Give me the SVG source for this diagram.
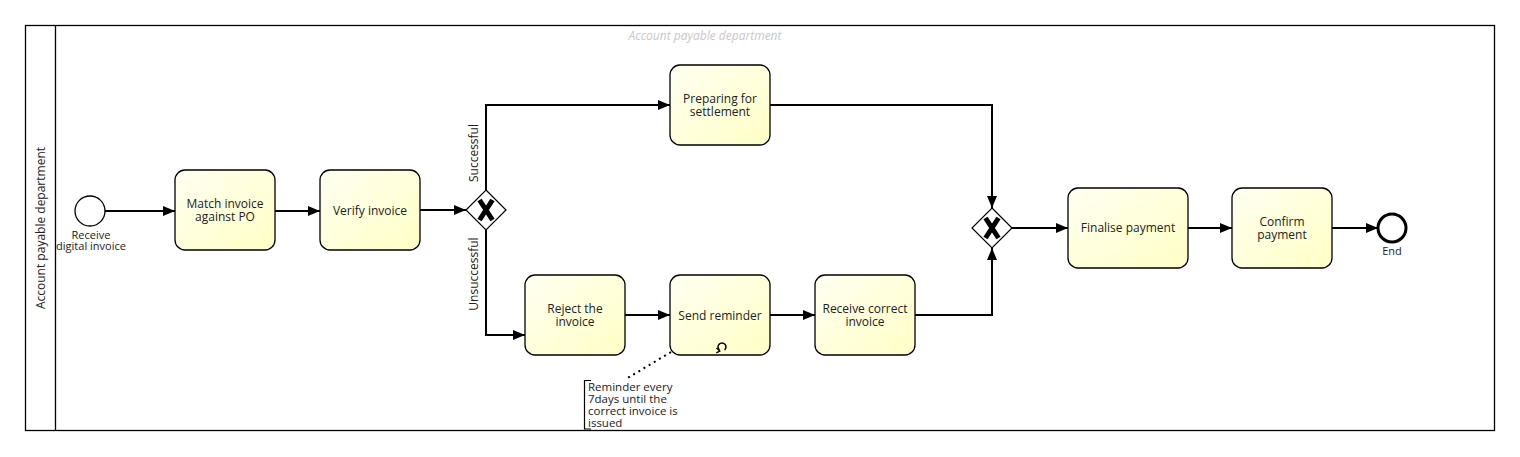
<svg xmlns="http://www.w3.org/2000/svg" width="1520" height="457" viewBox="0 0 1520 457">
<defs>
<linearGradient id="tg" x1="0" y1="0" x2="1" y2="1">
<stop offset="0" stop-color="#fffff2"/>
<stop offset="1" stop-color="#ffffc6"/>
</linearGradient>
<marker id="ar" viewBox="0 0 12 10" refX="12" refY="5" markerWidth="12" markerHeight="10" markerUnits="userSpaceOnUse" orient="auto">
<path d="M0,0 L12,5 L0,10 Z" fill="#000"/>
</marker>
</defs>
<style>
text{font-family:"Open Sans","Liberation Sans",sans-serif;font-size:12px;fill:#222}
.task rect{fill:url(#tg);stroke:#000;stroke-width:1.3}
.flow{fill:none;stroke:#000;stroke-width:2;marker-end:url(#ar)}
.gw polygon{fill:#fff;stroke:#000;stroke-width:1.2}
.gw path{stroke:#000;stroke-width:5;fill:none}
.note{font-size:11.5px}
</style>
<rect width="1520" height="457" fill="#fff"/>
<g id="pool">
<rect x="25.5" y="25.5" width="1469" height="405" fill="none" stroke="#000" stroke-width="1.3"/>
<line x1="55.5" y1="25.5" x2="55.5" y2="430.5" stroke="#000" stroke-width="1.3"/>
<text x="40" y="228" text-anchor="middle" transform="rotate(-90 40 228)" dominant-baseline="central">Account payable department</text>
<text x="705" y="40" text-anchor="middle" style="font-style:italic;fill:#c8c8c8;font-size:12px">Account payable department</text>
</g>
<g id="connectors">
<path class="flow" d="M105,211 L175,211"/>
<path class="flow" d="M275,211 L320,211"/>
<path class="flow" d="M420,210 L466,210"/>
<path class="flow" d="M486,190 L486,105 L670,105"/>
<path class="flow" d="M486,230 L486,335 L525,335"/>
<path class="flow" d="M625,315 L670,315"/>
<path class="flow" d="M770,315 L815,315"/>
<path class="flow" d="M915,315 L992,315 L992,248"/>
<path class="flow" d="M770,105 L992,105 L992,208"/>
<path class="flow" d="M1012,228 L1068,228"/>
<path class="flow" d="M1188,228 L1232,228"/>
<path class="flow" d="M1332,228 L1378,228"/>
<path d="M671,352 L626,379" fill="none" stroke="#000" stroke-width="2" stroke-dasharray="2,4"/>
<text x="478" y="153" text-anchor="middle" transform="rotate(-90 478 153)">Successful</text>
<text x="478" y="274" text-anchor="middle" transform="rotate(-90 478 274)">Unsuccessful</text>
</g>
<g id="start">
<circle cx="90" cy="211" r="15" fill="#fff" stroke="#000" stroke-width="1.3"/>
<text x="91" y="239" text-anchor="middle" style="font-size:11px">Receive</text>
<text x="91" y="250" text-anchor="middle" style="font-size:11px">digital invoice</text>
</g>
<g id="match" class="task">
<rect x="175" y="170" width="100" height="80" rx="10"/>
<text x="225" y="208" text-anchor="middle">Match invoice</text>
<text x="225" y="221" text-anchor="middle">against PO</text>
</g>
<g id="verify" class="task">
<rect x="320" y="170" width="100" height="80" rx="10"/>
<text x="370" y="215" text-anchor="middle">Verify invoice</text>
</g>
<g id="gw1" class="gw">
<polygon points="486,190 506,210 486,230 466,210"/>
<path d="M479.5,200 L492.5,220 M492.5,200 L479.5,220"/>
</g>
<g id="prepare" class="task">
<rect x="670" y="65" width="100" height="80" rx="10"/>
<text x="720" y="103" text-anchor="middle">Preparing for</text>
<text x="720" y="116" text-anchor="middle">settlement</text>
</g>
<g id="reject" class="task">
<rect x="525" y="275" width="100" height="80" rx="10"/>
<text x="575" y="313" text-anchor="middle">Reject the</text>
<text x="575" y="326" text-anchor="middle">invoice</text>
</g>
<g id="reminder" class="task">
<rect x="670" y="275" width="100" height="80" rx="10"/>
<text x="720" y="320" text-anchor="middle">Send reminder</text>
<path d="M719.5,350 A4,4 0 1 1 724.5,350" fill="none" stroke="#000" stroke-width="1.5"/>
<path d="M716.5,348 L719.8,351 L716.3,352.8" fill="none" stroke="#000" stroke-width="1.3"/>
</g>
<g id="receive" class="task">
<rect x="815" y="275" width="100" height="80" rx="10"/>
<text x="865" y="313" text-anchor="middle">Receive correct</text>
<text x="865" y="326" text-anchor="middle">invoice</text>
</g>
<g id="gw2" class="gw">
<polygon points="992,208 1012,228 992,248 972,228"/>
<path d="M985.5,218 L998.5,238 M998.5,218 L985.5,238"/>
</g>
<g id="finalise" class="task">
<rect x="1068" y="188" width="120" height="80" rx="10"/>
<text x="1128" y="232" text-anchor="middle">Finalise payment</text>
</g>
<g id="confirm" class="task">
<rect x="1232" y="188" width="100" height="80" rx="10"/>
<text x="1282" y="226" text-anchor="middle">Confirm</text>
<text x="1282" y="239" text-anchor="middle">payment</text>
</g>
<g id="end">
<circle cx="1392" cy="228" r="14" fill="#fff" stroke="#000" stroke-width="3"/>
<text x="1392" y="255" text-anchor="middle" style="font-size:11px">End</text>
</g>
<g id="annotation">
<path d="M591,380.5 L584.5,380.5 L584.5,429 L591,429" fill="none" stroke="#000" stroke-width="1.2"/>
<text class="note" x="588" y="391">Reminder every</text>
<text class="note" x="588" y="403">7days until the</text>
<text class="note" x="588" y="415">correct invoice is</text>
<text class="note" x="588" y="427">issued</text>
</g>
</svg>
